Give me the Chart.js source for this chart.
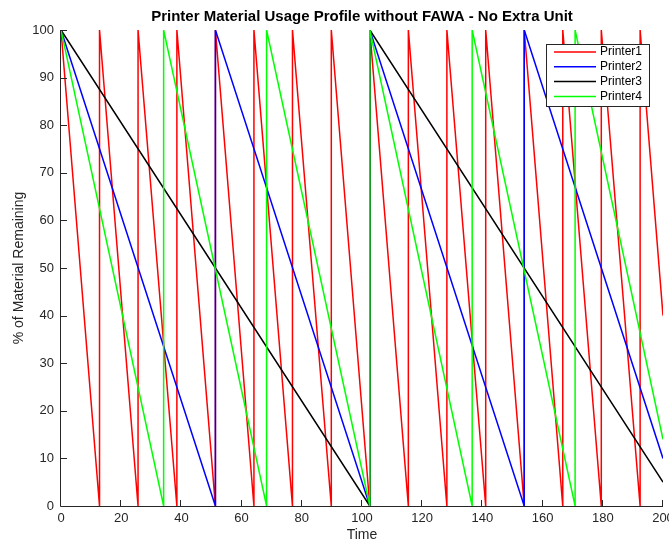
<!DOCTYPE html>
<html>
<head>
<meta charset="utf-8">
<title>Printer Material Usage Profile</title>
<script src="https://cdn.jsdelivr.net/npm/chart.js@4/dist/chart.umd.min.js"></script>
<style>
  html, body { margin: 0; padding: 0; background: #fff; }
  canvas { display: block; }
</style>
</head>
<body>
<canvas id="usageChart" width="669" height="542"></canvas>
<script>
// tick labels
const xTicks = [0, 20, 40, 60, 80, 100, 120, 140, 160, 180, 200];
const yTicks = [0, 10, 20, 30, 40, 50, 60, 70, 80, 90, 100];

// series (time, % remaining)
const printer1Time = [0, 12.8, 12.8, 25.6, 25.6, 38.5, 38.5, 51.3, 51.3, 64.1, 64.1, 76.9, 76.9, 89.8, 89.8, 102.6, 102.6, 115.4, 115.4, 128.2, 128.2, 141.1, 141.1, 153.9, 153.9, 166.7, 166.7, 179.5, 179.5, 192.4, 192.4, 200];
const printer1Level = [100, 0, 100, 0, 100, 0, 100, 0, 100, 0, 100, 0, 100, 0, 100, 0, 100, 0, 100, 0, 100, 0, 100, 0, 100, 0, 100, 0, 100, 0, 100, 40];

const printer2Time = [0, 51.3, 51.3, 102.6, 102.6, 153.9, 153.9, 200];
const printer2Level = [100, 0, 100, 0, 100, 0, 100, 10];

const printer3Time = [0, 102.6, 102.6, 200];
const printer3Level = [100, 0, 100, 5];

const printer4Time = [0, 34.1, 34.1, 68.3, 68.3, 102.6, 102.6, 136.6, 136.6, 170.8, 170.8, 200];
const printer4Level = [100, 0, 100, 0, 100, 0, 100, 0, 100, 0, 100, 14];

const seriesNames = ["Printer1", "Printer2", "Printer3", "Printer4"];
const seriesColors = ["#ff0000", "#0000ff", "#000000", "#00ff00"];

const toPoints = (xs, ys) => xs.map((x, i) => ({ x: x, y: ys[i] }));
const seriesData = [
  toPoints(printer1Time, printer1Level),
  toPoints(printer2Time, printer2Level),
  toPoints(printer3Time, printer3Level),
  toPoints(printer4Time, printer4Level),
];

const AXIS_COLOR = "#262626";
Chart.defaults.font.family = "'Liberation Sans', Arial, Helvetica, sans-serif";

// inward ticks, L-shaped axes and the boxed legend inside the plot
const axesAndLegend = {
  id: "axesAndLegend",
  afterDatasetsDraw(chart) {
    const { ctx, chartArea: a, scales: { x, y } } = chart;
    ctx.save();
    ctx.strokeStyle = AXIS_COLOR;
    ctx.lineWidth = 1;
    ctx.beginPath();
    ctx.moveTo(a.left - 0.5, a.top);
    ctx.lineTo(a.left - 0.5, a.bottom + 0.5);
    ctx.lineTo(a.right, a.bottom + 0.5);
    xTicks.forEach((v) => {
      const px = Math.round(x.getPixelForValue(v)) - 0.5;
      ctx.moveTo(px, a.bottom);
      ctx.lineTo(px, a.bottom - 6);
    });
    yTicks.forEach((v) => {
      const py = Math.round(y.getPixelForValue(v)) + 0.5;
      ctx.moveTo(a.left, py);
      ctx.lineTo(a.left + 6, py);
    });
    ctx.stroke();

    // legend box
    const bx = 546.5, by = 44.5, bw = 103, bh = 62;
    ctx.fillStyle = "#ffffff";
    ctx.fillRect(bx, by, bw, bh);
    ctx.strokeRect(bx, by, bw, bh);
    ctx.font = "12px 'Liberation Sans', Arial, sans-serif";
    ctx.textBaseline = "middle";
    ctx.textAlign = "left";
    chart.data.datasets.forEach((ds, i) => {
      const ry = 52 + i * 14.8;
      ctx.strokeStyle = ds.borderColor;
      ctx.lineWidth = 1.5;
      ctx.beginPath();
      ctx.moveTo(554, ry);
      ctx.lineTo(596, ry);
      ctx.stroke();
      ctx.fillStyle = "#000000";
      ctx.fillText(ds.label, 600, ry);
    });
    ctx.restore();
  },
};

new Chart(document.getElementById("usageChart"), {
  type: "line",
  data: {
    datasets: seriesNames.map((name, i) => ({
      label: name,
      data: seriesData[i],
      borderColor: seriesColors[i],
      backgroundColor: seriesColors[i],
      borderWidth: 1.5,
      pointRadius: 0,
      tension: 0,
      fill: false,
      order: seriesNames.length - i, // later printers on top, like the original
    })),
  },
  options: {
    responsive: false,
    animation: false,
    devicePixelRatio: 1,
    layout: { padding: { left: 0, right: 6, top: 0, bottom: 0 } },
    plugins: {
      legend: { display: false },
      tooltip: { enabled: false },
      title: {
        display: true,
        text: "Printer Material Usage Profile without FAWA - No Extra Unit",
        color: "#000000",
        font: { size: 15, weight: "bold", lineHeight: 1.2 },
        padding: { top: 8, bottom: 4 },
        fullSize: false,
      },
    },
    scales: {
      x: {
        type: "linear",
        min: 0,
        max: 200,
        grid: { display: false, drawTicks: false },
        border: { display: false },
        ticks: { stepSize: 20, color: AXIS_COLOR, font: { size: 13 }, padding: 5, maxRotation: 0 },
        title: { display: true, text: "Time", color: AXIS_COLOR, font: { size: 14, lineHeight: 1 }, padding: { top: 0, bottom: 0 } },
        afterFit(scale) {
          scale.height = 36;
          scale.paddingLeft = 0;
          scale.paddingRight = 0;
        },
      },
      y: {
        min: 0,
        max: 100,
        grid: { display: false, drawTicks: false },
        border: { display: false },
        ticks: { stepSize: 10, color: AXIS_COLOR, font: { size: 13 }, padding: 7 },
        title: { display: true, text: "% of Material Remaining", color: AXIS_COLOR, font: { size: 14, lineHeight: 1 }, padding: { top: 12, bottom: 0 } },
        afterFit(scale) {
          scale.width = 61;
          scale.paddingTop = 0;
          scale.paddingBottom = 0;
        },
      },
    },
  },
  plugins: [axesAndLegend],
});
</script>
</body>
</html>
